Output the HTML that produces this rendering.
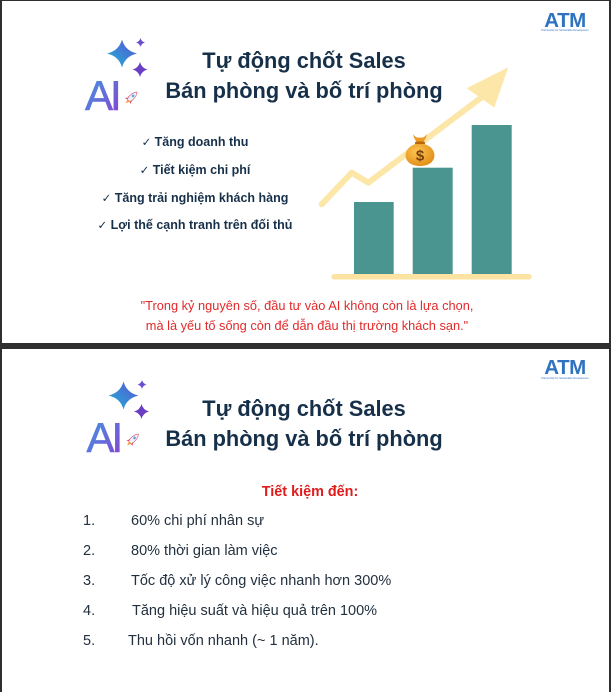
<!DOCTYPE html>
<html>
<head>
<meta charset="utf-8">
<style>
  html,body{margin:0;padding:0;}
  body{width:611px;height:692px;position:relative;overflow:hidden;background:#2f2f2f;font-family:"Liberation Sans","DejaVu Sans",sans-serif;}
  .slide{position:absolute;left:2px;width:607px;background:#ffffff;}
  .t{position:absolute;white-space:nowrap;line-height:1;}
  .title{font-size:21.8px;font-weight:bold;color:#17304a;left:104px;width:400px;text-align:center;}
  .bul{font-size:12.5px;font-weight:bold;color:#17304a;left:45px;width:300px;text-align:center;}
  .bul .ck{font-family:"DejaVu Sans",sans-serif;font-weight:bold;font-size:11.5px;}
  .quote{font-size:12.8px;color:#e12a2a;left:107px;width:400px;text-align:center;}
  .num{font-size:14.5px;color:#22303f;left:83px;}
  .item{font-size:14.5px;color:#22303f;left:131px;}
  .atm{font-size:20.5px;font-weight:bold;color:#2f72c0;left:540px;width:50px;text-align:center;letter-spacing:-0.5px;}
  .atms{font-size:2.6px;color:#2f72c0;left:540px;width:50px;text-align:center;}
</style>
</head>
<body>
<div class="slide" style="top:1px;height:342px;"></div>
<div class="slide" style="top:349px;height:343px;"></div>

<svg width="611" height="692" style="position:absolute;left:0;top:0;" xmlns="http://www.w3.org/2000/svg">
  <defs>
    <linearGradient id="gStar" x1="0" y1="1" x2="1" y2="0">
      <stop offset="0" stop-color="#1fb6d4"/>
      <stop offset="1" stop-color="#5b4fd6"/>
    </linearGradient>
    <linearGradient id="gAI" x1="0" y1="0" x2="1" y2="1">
      <stop offset="0" stop-color="#3a9fe3"/>
      <stop offset="1" stop-color="#8a3fd2"/>
    </linearGradient>
    <radialGradient id="gBag" cx="0.4" cy="0.35" r="0.75">
      <stop offset="0" stop-color="#fdc653"/>
      <stop offset="1" stop-color="#de8812"/>
    </radialGradient>
  </defs>

  <!-- Slide 1 logo -->
  <g>
    <path d="M122,39.5 Q125,50.7 137,53.5 Q125,56.3 122,67.5 Q119,56.3 107,53.5 Q119,50.7 122,39.5Z" fill="url(#gStar)"/>
    <path d="M140.5,38 Q141.4,41.6 145,42.5 Q141.4,43.4 140.5,47 Q139.6,43.4 136,42.5 Q139.6,41.6 140.5,38Z" fill="#6b4fcf"/>
    <path d="M140,62 Q141.5,68 147.5,69.5 Q141.5,71 140,77 Q138.5,71 132.5,69.5 Q138.5,68 140,62Z" fill="#6a3fc4"/>
    <text x="85" y="110" font-family="Liberation Sans, sans-serif" font-size="42" fill="url(#gAI)" stroke="url(#gAI)" stroke-width="0.6" letter-spacing="-3">AI</text>
    <g transform="translate(132,97) rotate(45)">
      <path d="M0,-7 C3,-4 3,2 2,5 L-2,5 C-3,2 -3,-4 0,-7Z" fill="#eef0f6" stroke="#d35a78" stroke-width="0.6"/>
      <circle cx="0" cy="-1.5" r="1.3" fill="#5aa0e0"/>
      <path d="M-2,2 L-4,6 L-2,5Z M2,2 L4,6 L2,5Z" fill="#e2405e"/>
      <path d="M-1.5,5 L0,9 L1.5,5Z" fill="#f6a13a"/>
    </g>
  </g>

  <!-- Slide 2 logo -->
  <g transform="translate(1.5,342)">
    <path d="M122,39.5 Q125,50.7 137,53.5 Q125,56.3 122,67.5 Q119,56.3 107,53.5 Q119,50.7 122,39.5Z" fill="url(#gStar)"/>
    <path d="M140.5,38 Q141.4,41.6 145,42.5 Q141.4,43.4 140.5,47 Q139.6,43.4 136,42.5 Q139.6,41.6 140.5,38Z" fill="#6b4fcf"/>
    <path d="M140,62 Q141.5,68 147.5,69.5 Q141.5,71 140,77 Q138.5,71 132.5,69.5 Q138.5,68 140,62Z" fill="#6a3fc4"/>
    <text x="85" y="110" font-family="Liberation Sans, sans-serif" font-size="42" fill="url(#gAI)" stroke="url(#gAI)" stroke-width="0.6" letter-spacing="-3">AI</text>
    <g transform="translate(132,97) rotate(45)">
      <path d="M0,-7 C3,-4 3,2 2,5 L-2,5 C-3,2 -3,-4 0,-7Z" fill="#eef0f6" stroke="#d35a78" stroke-width="0.6"/>
      <circle cx="0" cy="-1.5" r="1.3" fill="#5aa0e0"/>
      <path d="M-2,2 L-4,6 L-2,5Z M2,2 L4,6 L2,5Z" fill="#e2405e"/>
      <path d="M-1.5,5 L0,9 L1.5,5Z" fill="#f6a13a"/>
    </g>
  </g>

  <!-- Chart slide 1 -->
  <polyline points="321.7,204.3 351.7,172.7 368.3,182.7 482,97" fill="none" stroke="#fce7a8" stroke-width="6" stroke-linecap="round" stroke-linejoin="round"/>
  <polygon points="508.3,67.3 466.7,88.3 494.3,107.5" fill="#fce7a8"/>
  <rect x="354" y="202" width="39.7" height="72" fill="#4b9591"/>
  <rect x="412.7" y="167.7" width="40" height="106.3" fill="#4b9591"/>
  <rect x="471.7" y="125" width="40" height="149" fill="#4b9591"/>
  <line x1="334" y1="276.7" x2="529" y2="276.7" stroke="#fce3a2" stroke-width="5.5" stroke-linecap="round"/>

  <!-- money bag -->
  <path d="M413,134 Q416,138.5 420,137.5 Q424,138.5 427,134 Q425.5,142 420,143 Q414.5,142 413,134Z" fill="#eb9a22"/>
  <rect x="415" y="141.5" width="10" height="3" rx="1.5" fill="#b8650e"/>
  <path d="M416,144 C401,148 402,166 420,166 C438,166 439,148 424,144Z" fill="url(#gBag)"/>
  <text x="420" y="160.5" font-family="Liberation Sans, sans-serif" font-size="15" font-weight="bold" fill="#7a3f0c" text-anchor="middle">$</text>
</svg>

<!-- Slide 1 text -->
<div class="t atm" style="top:10.6px;">ATM</div>
<div class="t atms" style="top:30px;">Partnership for Sustainable Development</div>

<div class="t title" style="top:49.8px;">Tự động chốt Sales</div>
<div class="t title" style="top:79.8px;">Bán phòng và bố trí phòng</div>

<div class="t bul" style="top:136.4px;"><span class="ck">✓</span> Tăng doanh thu</div>
<div class="t bul" style="top:164.4px;"><span class="ck">✓</span> Tiết kiệm chi phí</div>
<div class="t bul" style="top:192.1px;"><span class="ck">✓</span> Tăng trải nghiệm khách hàng</div>
<div class="t bul" style="top:219.4px;"><span class="ck">✓</span> Lợi thế cạnh tranh trên đối thủ</div>

<div class="t quote" style="top:299.8px;">"Trong kỷ nguyên số, đầu tư vào AI không còn là lựa chọn,</div>
<div class="t quote" style="top:319.8px;">mà là yếu tố sống còn để dẫn đầu thị trường khách sạn."</div>

<!-- Slide 2 text -->
<div class="t atm" style="top:358.3px;">ATM</div>
<div class="t atms" style="top:378px;">Partnership for Sustainable Development</div>

<div class="t title" style="top:398.2px;">Tự động chốt Sales</div>
<div class="t title" style="top:427.6px;">Bán phòng và bố trí phòng</div>

<div class="t" style="top:484.5px;left:210px;width:200px;text-align:center;font-size:14.4px;font-weight:bold;color:#e01b1b;">Tiết kiệm đến:</div>

<div class="t num" style="top:514.4px;">1.</div>
<div class="t item" style="top:514.4px;">60% chi phí nhân sự</div>
<div class="t num" style="top:544.4px;">2.</div>
<div class="t item" style="top:544.4px;">80% thời gian làm việc</div>
<div class="t num" style="top:574.4px;">3.</div>
<div class="t item" style="top:574.4px;">Tốc độ xử lý công việc nhanh hơn 300%</div>
<div class="t num" style="top:604.4px;">4.</div>
<div class="t item" style="top:604.4px;left:132px;">Tăng hiệu suất và hiệu quả trên 100%</div>
<div class="t num" style="top:634.4px;">5.</div>
<div class="t item" style="top:634.4px;left:128px;">Thu hồi vốn nhanh (~ 1 năm).</div>
</body>
</html>
